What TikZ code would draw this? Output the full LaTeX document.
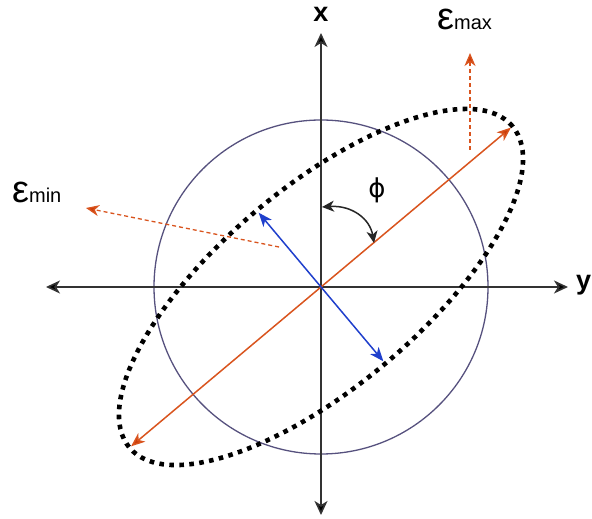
\documentclass[tikz,border=0pt]{standalone}
\usepackage{fontspec}
\setmainfont{Liberation Sans}
\newfontfamily\dvfont{DejaVu Sans}
\usetikzlibrary{arrows.meta,calc}
\definecolor{axisgray}{HTML}{333333}
\definecolor{circpurple}{HTML}{56517E}
\definecolor{redor}{HTML}{D9541E}
\definecolor{redtip}{HTML}{CC3D0A}
\definecolor{blueax}{HTML}{1F3FCC}
\begin{document}
\begin{tikzpicture}[x=1pt,y=1pt,
  axisline/.style={draw=axisgray,line width=1.6pt,{Stealth[length=14pt,width=13pt,inset=4pt,fill=black]}-{Stealth[length=14pt,width=13pt,inset=4pt,fill=black]}},
  majorline/.style={draw=redor,line width=1.5pt,{Stealth[length=14pt,width=11pt,inset=4pt,fill=redtip]}-{Stealth[length=14pt,width=11pt,inset=4pt,fill=redtip]}},
  minorline/.style={draw=blueax,line width=1.5pt,{Stealth[length=14pt,width=11pt,inset=4pt]}-{Stealth[length=14pt,width=11pt,inset=4pt]}},
  strainarrow/.style={draw=redor,line width=1.3pt,dash pattern=on 4pt off 3pt,-{Stealth[length=13pt,width=11pt,inset=4pt,fill=redtip]}},
  anglearrow/.style={draw=black!85,line width=1.5pt,{Stealth[length=12pt,width=11pt,inset=3.5pt]}-{Stealth[length=12pt,width=11pt,inset=3.5pt]}},
  ellipsestyle/.style={draw=black,line width=4.6pt,dash pattern=on 4.6pt off 5.4pt},
  axislabel/.style={font=\fontsize{27}{27}\selectfont\bfseries,inner sep=0pt},
  strainlabel/.style={inner sep=0pt,anchor=base west}
]
\useasboundingbox (0,0) rectangle (592,519);
\coordinate (O) at (321,232);
\coordinate (L) at (46,232);
\coordinate (R) at (568,232);
\coordinate (T) at (321,486);
\coordinate (B) at (321,4);
% circle
\node[draw=circpurple,line width=1.3pt,circle,minimum size=334pt,inner sep=0pt] (circ) at (O) {};
% axes
\draw[axisline] (L) -- (R);
\draw[axisline] (B) -- (T);
% ellipse
\draw[ellipsestyle,rotate around={40:(O)}] (O) ellipse (250 and 100);
% principal directions
\coordinate (M1) at ($(O)+(40:248)$);
\coordinate (M2) at ($(O)+(220:248)$);
\coordinate (N1) at ($(O)+(130:97)$);
\coordinate (N2) at ($(O)+(-50:97)$);
\draw[majorline] (M2) -- (M1);
\draw[minorline] (N1) -- (N2);
% strain arrows
\coordinate (Emaxs) at (470,369);
\coordinate (Emaxe) at (470,466);
\coordinate (Emins) at (279,272);
\coordinate (Emine) at (86,311);
\draw[strainarrow] (Emaxs) -- (Emaxe);
\draw[strainarrow] (Emins) -- (Emine);
% angle
\coordinate (PA) at (322,312);
\coordinate (PB) at (374,276);
\draw[anglearrow] (PA) .. controls (352,314) and (370,300) .. (PB);
% labels
\node[axislabel] (xl) at (321,505) {x};
\node[axislabel,anchor=west] (yl) at (576,234) {y};
\node[inner sep=0pt] (phil) at (377,329) {\dvfont\fontsize{26}{26}\selectfont ϕ};
\node[strainlabel] (emax) at (437,489) {\fontsize{38}{38}\selectfont\smash{ε}\fontsize{20}{20}\selectfont max};
\node[strainlabel] (emin) at (12,316) {\fontsize{38}{38}\selectfont\smash{ε}\fontsize{20}{20}\selectfont min};
\end{tikzpicture}
\end{document}
